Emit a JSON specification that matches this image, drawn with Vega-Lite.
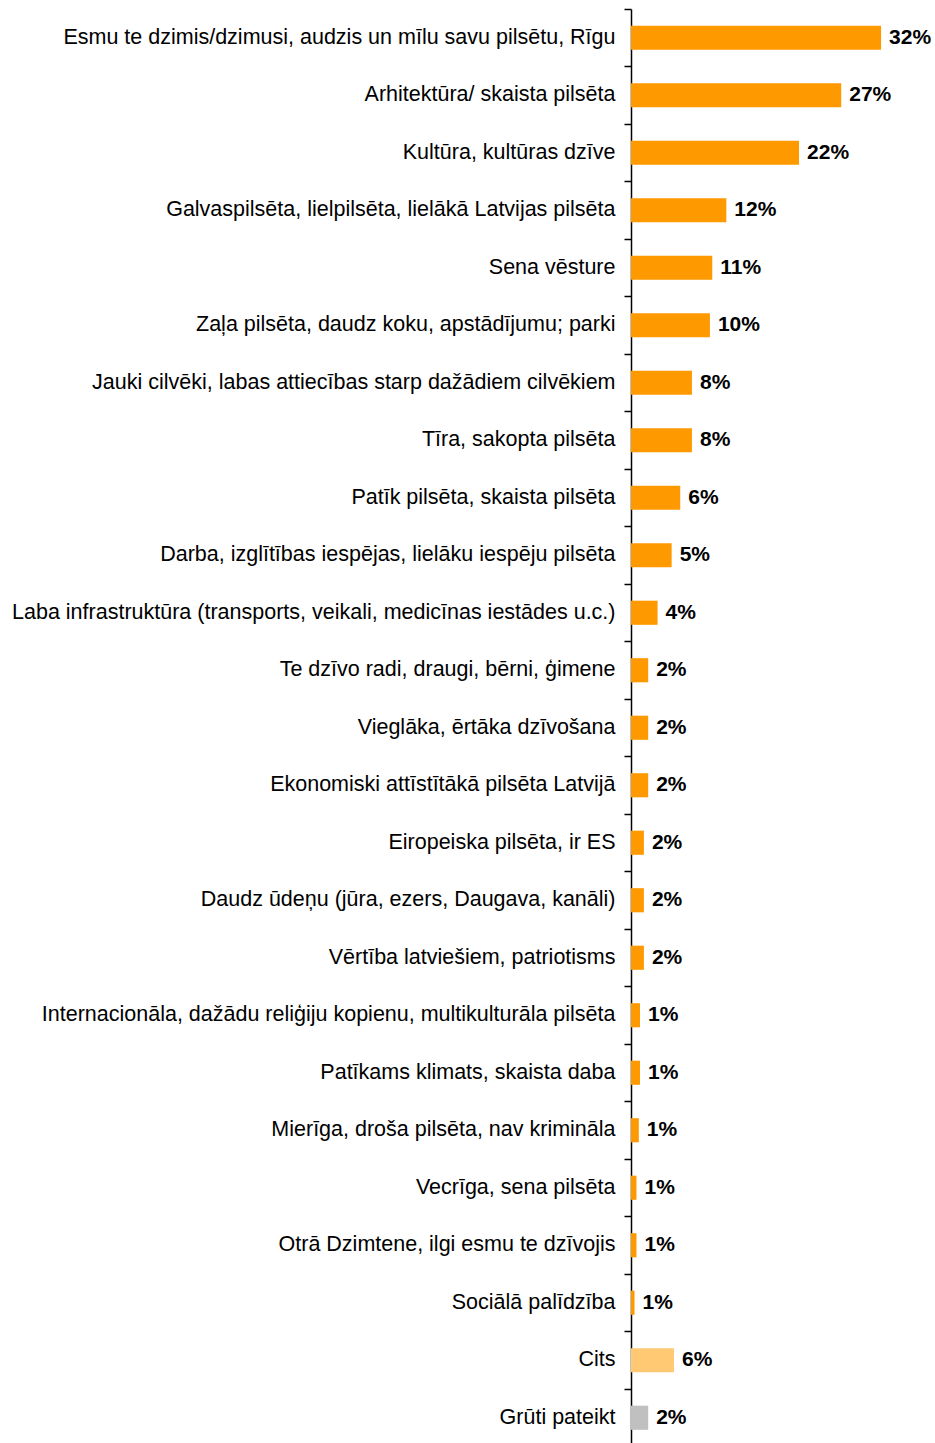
{
  "$schema": "https://vega.github.io/schema/vega-lite/v6.json",
  "width": 304,
  "height": 1437.5,
  "autosize": {"type": "none"},
  "padding": {"left": 631, "top": 9, "right": 0, "bottom": 0},
  "background": "white",
  "config": {"view": {"stroke": null}, "font": "Liberation Sans"},
  "data": {
    "values": [
      {"cat": "Esmu te dzimis/dzimusi, audzis un mīlu savu pilsētu, Rīgu", "v": 32.0, "lbl": "32%", "type": "main"},
      {"cat": "Arhitektūra/ skaista pilsēta", "v": 26.9, "lbl": "27%", "type": "main"},
      {"cat": "Kultūra, kultūras dzīve", "v": 21.5, "lbl": "22%", "type": "main"},
      {"cat": "Galvaspilsēta, lielpilsēta, lielākā Latvijas pilsēta", "v": 12.2, "lbl": "12%", "type": "main"},
      {"cat": "Sena vēsture", "v": 10.4, "lbl": "11%", "type": "main"},
      {"cat": "Zaļa pilsēta, daudz koku, apstādījumu; parki", "v": 10.1, "lbl": "10%", "type": "main"},
      {"cat": "Jauki cilvēki, labas attiecības starp dažādiem cilvēkiem", "v": 7.8, "lbl": "8%", "type": "main"},
      {"cat": "Tīra, sakopta pilsēta", "v": 7.8, "lbl": "8%", "type": "main"},
      {"cat": "Patīk pilsēta, skaista pilsēta", "v": 6.3, "lbl": "6%", "type": "main"},
      {"cat": "Darba, izglītības iespējas, lielāku iespēju pilsēta", "v": 5.2, "lbl": "5%", "type": "main"},
      {"cat": "Laba infrastruktūra (transports, veikali, medicīnas iestādes u.c.)", "v": 3.4, "lbl": "4%", "type": "main"},
      {"cat": "Te dzīvo radi, draugi, bērni, ģimene", "v": 2.2, "lbl": "2%", "type": "main"},
      {"cat": "Vieglāka, ērtāka dzīvošana", "v": 2.2, "lbl": "2%", "type": "main"},
      {"cat": "Ekonomiski attīstītākā pilsēta Latvijā", "v": 2.2, "lbl": "2%", "type": "main"},
      {"cat": "Eiropeiska pilsēta, ir ES", "v": 1.65, "lbl": "2%", "type": "main"},
      {"cat": "Daudz ūdeņu (jūra, ezers, Daugava, kanāli)", "v": 1.65, "lbl": "2%", "type": "main"},
      {"cat": "Vērtība latviešiem, patriotisms", "v": 1.65, "lbl": "2%", "type": "main"},
      {"cat": "Internacionāla, dažādu reliģiju kopienu, multikulturāla pilsēta", "v": 1.15, "lbl": "1%", "type": "main"},
      {"cat": "Patīkams klimats, skaista daba", "v": 1.15, "lbl": "1%", "type": "main"},
      {"cat": "Mierīga, droša pilsēta, nav krimināla", "v": 1.0, "lbl": "1%", "type": "main"},
      {"cat": "Vecrīga, sena pilsēta", "v": 0.7, "lbl": "1%", "type": "main"},
      {"cat": "Otrā Dzimtene, ilgi esmu te dzīvojis", "v": 0.7, "lbl": "1%", "type": "main"},
      {"cat": "Sociālā palīdzība", "v": 0.45, "lbl": "1%", "type": "main"},
      {"cat": "Cits", "v": 5.5, "lbl": "6%", "type": "other"},
      {"cat": "Grūti pateikt", "v": 2.2, "lbl": "2%", "type": "dk"}
    ]
  },
  "encoding": {
    "y": {
      "field": "cat",
      "type": "nominal",
      "sort": null,
      "title": null,
      "scale": {"paddingInner": 0, "paddingOuter": 0},
      "axis": {
        "domainColor": "#000000",
        "domainWidth": 1.5,
        "tickColor": "#000000",
        "tickWidth": 1.5,
        "tickSize": 7,
        "bandPosition": 0,
        "labelPadding": 9,
        "labelFont": "Liberation Sans",
        "labelFontSize": 21.5,
        "labelColor": "#000000",
        "labelLimit": 0
      }
    },
    "x": {
      "field": "v",
      "type": "quantitative",
      "scale": {"domain": [0, 38.9], "nice": false, "zero": true},
      "axis": null
    }
  },
  "layer": [
    {
      "mark": {"type": "bar", "height": {"band": 0.42}},
      "encoding": {
        "color": {
          "field": "type",
          "type": "nominal",
          "scale": {"domain": ["main", "other", "dk"], "range": ["#FF9900", "#FFC873", "#C0C0C0"]},
          "legend": null
        }
      }
    },
    {
      "mark": {"type": "text", "align": "left", "baseline": "middle", "dx": 8, "font": "Liberation Sans", "fontSize": 21, "fontWeight": "bold", "color": "#000000"},
      "encoding": {"text": {"field": "lbl"}}
    }
  ]
}
